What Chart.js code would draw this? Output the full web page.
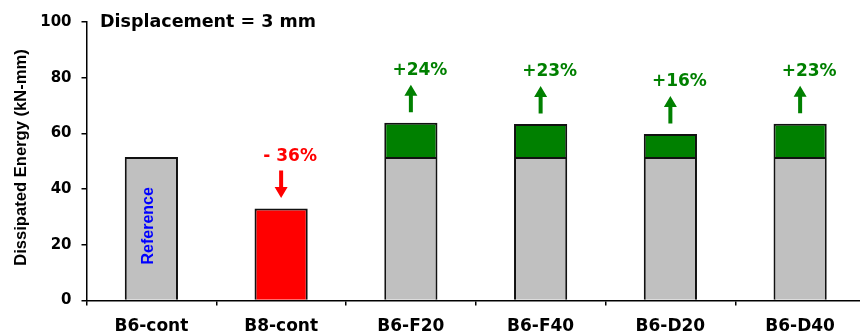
<!DOCTYPE html>
<html>
<head>
<meta charset="utf-8">
<script src="https://cdn.jsdelivr.net/npm/chart.js@4/dist/chart.umd.min.js"></script>
<style>
  html, body { margin: 0; padding: 0; background: #fff; overflow: hidden; }
  #wrap { position: relative; width: 865px; height: 332px; }
</style>
</head>
<body>
<div id="wrap"><canvas id="c"></canvas></div>
<script>
// Specimens and dissipated energy at 3 mm displacement (kN-mm)
const categories = ['B6-cont', 'B8-cont', 'B6-F20', 'B6-F40', 'B6-D20', 'B6-D40'];
const referenceEnergy = 51.5;
const energy = [51.5, 33.0, 63.8, 63.4, 59.8, 63.5];
const changeLabels = ['', '- 36%', '+24%', '+23%', '+16%', '+23%'];
const yTicks = [0, 20, 40, 60, 80, 100];

const GREY = '#C0C0C0', RED = '#FF0000', GREEN = '#008000', BLUE = '#0000FF';

// Lower part of each bar: the full value for the two controls, the control level for strengthened beams
const baseValues = energy.map((v, i) => i < 2 ? v : Math.min(v, referenceEnergy));
const gainValues = energy.map((v, i) => i < 2 ? null : Math.max(v - referenceEnergy, 0));
const baseColors = energy.map((v, i) => i === 1 ? RED : GREY);

const annotate = {
  id: 'annotate',
  afterDatasetsDraw(chart) {
    const { ctx, scales } = chart;
    const y = scales.y;
    const meta = chart.getDatasetMeta(0);
    ctx.save();

    // chart title
    ctx.fillStyle = '#000';
    ctx.font = 'bold 17.5px "DejaVu Sans"';
    ctx.textAlign = 'left';
    ctx.textBaseline = 'middle';
    ctx.fillText('Displacement = 3 mm', 100, 22);

    // y axis title
    ctx.save();
    ctx.translate(26, 157.5);
    ctx.rotate(-Math.PI / 2);
    ctx.font = 'bold 16.6px "Liberation Sans"';
    ctx.textAlign = 'center';
    ctx.textBaseline = 'alphabetic';
    ctx.fillText('Dissipated Energy (kN-mm)', 0, 0);
    ctx.restore();

    // reference label inside the control bar
    const b0 = meta.data[0];
    const mid0 = (y.getPixelForValue(0) + y.getPixelForValue(energy[0])) / 2;
    ctx.save();
    ctx.translate(b0.x + 2, mid0 - 3);
    ctx.rotate(-Math.PI / 2);
    ctx.fillStyle = BLUE;
    ctx.font = 'bold 16px "Liberation Sans"';
    ctx.textAlign = 'center';
    ctx.textBaseline = 'alphabetic';
    ctx.fillText('Reference', 0, 0);
    ctx.restore();

    // change arrows and percentages
    for (let i = 1; i < categories.length; i++) {
      const x = meta.data[i].x;
      const top = y.getPixelForValue(energy[i]);
      const up = energy[i] >= referenceEnergy;
      const color = up ? GREEN : RED;
      const yFar = top - 38, yNear = top - 10.5;
      drawArrow(ctx, x, up ? yNear : yFar, up ? yFar : yNear, color);
      ctx.fillStyle = color;
      ctx.font = 'bold 17px "DejaVu Sans"';
      ctx.textAlign = 'center';
      ctx.textBaseline = 'middle';
      ctx.fillText(changeLabels[i], x + 9, top - 52);
    }
    ctx.restore();
  }
};

function drawArrow(ctx, x, yTail, yTip, color) {
  const dir = yTip < yTail ? -1 : 1;
  const headLen = 11, headHalf = 6.5, shaftHalf = 2;
  const yBase = yTip - dir * headLen;
  ctx.fillStyle = color;
  ctx.beginPath();
  ctx.moveTo(x - shaftHalf, yTail);
  ctx.lineTo(x + shaftHalf, yTail);
  ctx.lineTo(x + shaftHalf, yBase);
  ctx.lineTo(x + headHalf, yBase);
  ctx.lineTo(x, yTip);
  ctx.lineTo(x - headHalf, yBase);
  ctx.lineTo(x - shaftHalf, yBase);
  ctx.closePath();
  ctx.fill();
}

new Chart(document.getElementById('c'), {
  type: 'bar',
  data: {
    labels: categories,
    datasets: [
      {
        data: baseValues,
        backgroundColor: baseColors,
        borderColor: '#111',
        borderWidth: 2,
        borderSkipped: 'start',
        barPercentage: 0.41,
        categoryPercentage: 1
      },
      {
        data: gainValues,
        backgroundColor: GREEN,
        borderColor: '#111',
        borderWidth: 2,
        borderSkipped: 'start',
        barPercentage: 0.41,
        categoryPercentage: 1
      }
    ]
  },
  options: {
    responsive: true,
    maintainAspectRatio: false,
    animation: false,
    events: [],
    layout: { padding: { top: 22, left: 0, right: 0, bottom: 0 } },
    plugins: { legend: { display: false }, tooltip: { enabled: false }, title: { display: false } },
    scales: {
      x: {
        stacked: true,
        border: { display: true, color: '#000', width: 1.5 },
        grid: { display: true, offset: true, drawOnChartArea: false, drawTicks: true, tickLength: 5, color: '#000', lineWidth: 1.5 },
        ticks: { color: '#000', padding: 12.5, font: { family: '"DejaVu Sans"', weight: 'bold', size: 17, lineHeight: 1 } },
        afterFit(s) { s.height = 31.5; }
      },
      y: {
        stacked: true,
        min: 0,
        max: 100,
        afterBuildTicks(s) { s.ticks = yTicks.map(v => ({ value: v })); },
        border: { display: true, color: '#000', width: 1.5 },
        grid: { display: true, drawOnChartArea: false, drawTicks: true, tickLength: 5, color: '#000', lineWidth: 1.5 },
        ticks: { color: '#000', padding: 10, font: { family: '"DejaVu Sans"', weight: 'bold', size: 15 } },
        afterFit(s) { s.width = 86.5; }
      }
    }
  },
  plugins: [annotate]
});
</script>
</body>
</html>
